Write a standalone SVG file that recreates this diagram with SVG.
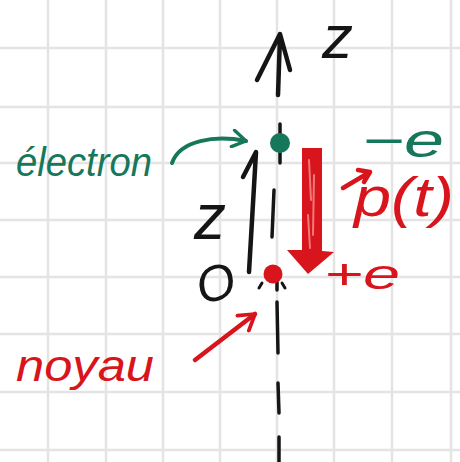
<svg xmlns="http://www.w3.org/2000/svg" width="460" height="462" viewBox="0 0 460 462">
<defs>
<style>
.grid{stroke:#e4e4e4;stroke-width:2.5}
.ink{fill:none;stroke:#151515;stroke-width:4.5;stroke-linecap:round;stroke-linejoin:round}
.g{fill:#16775a}
.r{fill:#d8141c}
.gs{fill:none;stroke:#16775a;stroke-width:4;stroke-linecap:round;stroke-linejoin:round}
.rs{fill:none;stroke:#d8141c;stroke-width:4.5;stroke-linecap:round;stroke-linejoin:round}
.hand{font-family:"Liberation Sans","DejaVu Sans",sans-serif;font-style:italic}
</style>
<marker id="mg" viewBox="0 0 12 12" refX="10" refY="6" markerWidth="5" markerHeight="5" orient="auto" markerUnits="strokeWidth">
<path d="M2,1 L10,6 L2,11" fill="none" stroke="#16775a" stroke-width="2" stroke-linecap="round" stroke-linejoin="round"/>
</marker>
<marker id="mr" viewBox="0 0 12 12" refX="10" refY="6" markerWidth="5" markerHeight="5" orient="auto" markerUnits="strokeWidth">
<path d="M2,1 L10,6 L2,11" fill="none" stroke="#d8141c" stroke-width="2" stroke-linecap="round" stroke-linejoin="round"/>
</marker>
</defs>
<rect width="460" height="462" fill="#ffffff"/>
<g id="grid" class="grid">
<line x1="48" y1="0" x2="48" y2="462"/><line x1="106" y1="0" x2="106" y2="462"/><line x1="163" y1="0" x2="163" y2="462"/><line x1="220" y1="0" x2="220" y2="462"/><line x1="277" y1="0" x2="277" y2="462"/><line x1="334" y1="0" x2="334" y2="462"/><line x1="392" y1="0" x2="392" y2="462"/><line x1="451" y1="0" x2="451" y2="462"/>
<line x1="0" y1="48" x2="460" y2="48"/><line x1="0" y1="107" x2="460" y2="107"/><line x1="0" y1="163" x2="460" y2="163"/><line x1="0" y1="220" x2="460" y2="220"/><line x1="0" y1="277" x2="460" y2="277"/><line x1="0" y1="334" x2="460" y2="334"/><line x1="0" y1="392" x2="460" y2="392"/><line x1="0" y1="450" x2="460" y2="450"/>
</g>
<g id="axis">
<path class="ink" d="M257,80 L280,34 L290,70 M280,36 L278,95"/>
<path class="ink" style="stroke-width:3.5" d="M280,124 L280,136 M280,153 L280,163 M274,190 L272,237 M277,281 L277,290 M277,302 L278,353 M278,383 L279,413 M279,437 L279,462"/>
<text class="hand" x="322" y="58" font-size="62" fill="#151515">z</text>
</g>
<g id="z-arrow">
<path class="ink" d="M249,272 L256,152 L243,177"/>
<text class="hand" x="194" y="239" font-size="64" fill="#151515">z</text>
<text class="hand" x="196" y="299" font-size="50" fill="#151515" transform="rotate(-15 220 282)">O</text>
</g>
<g id="electron">
<circle cx="280" cy="143" r="10" class="g"/>
<text class="hand g" x="362" y="157" font-size="48" textLength="82" lengthAdjust="spacingAndGlyphs">−e</text>
<text class="hand g" x="16" y="176" font-size="40" textLength="136" lengthAdjust="spacingAndGlyphs">électron</text>
</g>
<g id="noyau">
<circle cx="273" cy="274" r="9.5" class="r"/>
<path class="ink" style="stroke-width:3" d="M262,283 L259,288 M282,283 L285,288"/>
<text class="hand r" x="324" y="289" font-size="42" textLength="76" lengthAdjust="spacingAndGlyphs">+e</text>
<text class="hand r" x="16" y="381" font-size="44" textLength="138" lengthAdjust="spacingAndGlyphs">noyau</text>
</g>
<g id="dipole">
<path class="r" d="M302,148 L322,148 L322,251 L334,252 L308,274 L287,250 L302,250 Z"/>
<path d="M309,160 L311,200 M314,175 L313,235 M308,215 L310,248" fill="none" stroke="#f27a7a" stroke-width="2" stroke-linecap="round"/>
<text class="hand r" x="354" y="216" font-size="56" textLength="100" lengthAdjust="spacingAndGlyphs">p(t)</text>
<path class="rs" d="M343,188 L370,172 M358,170 L370,172 L364,182"/>
</g>
<g id="connectors">
<path class="gs" d="M172,163 C180,140 215,135 246,141" marker-end="url(#mg)"/>
<path class="rs" d="M195,360 L255,314" marker-end="url(#mr)"/>
</g>
</svg>
